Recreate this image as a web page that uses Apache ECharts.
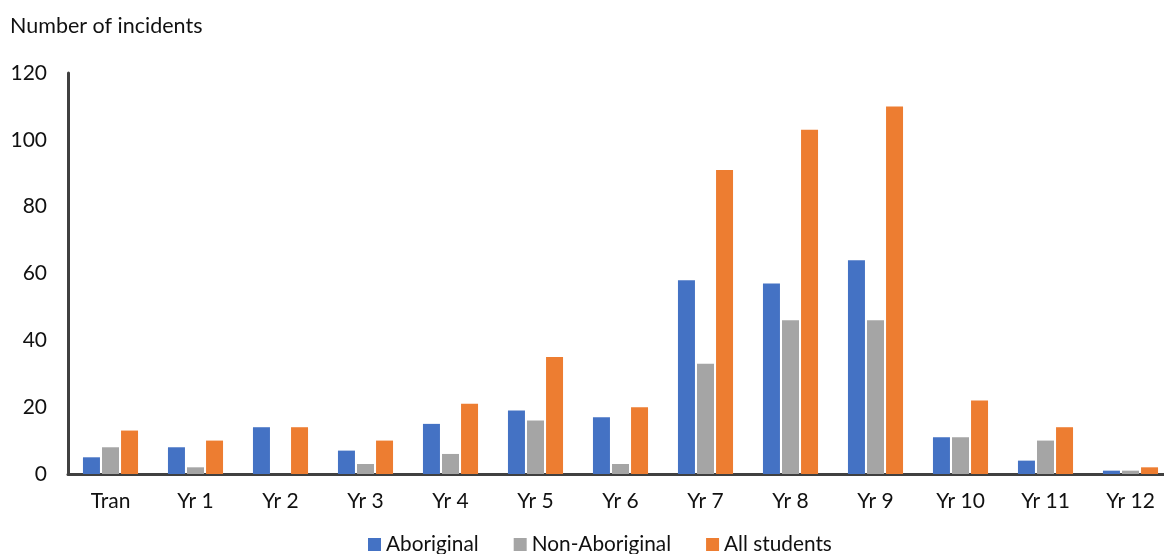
<!DOCTYPE html>
<html>
<head>
<meta charset="utf-8">
<script src="https://cdn.jsdelivr.net/npm/echarts@6/dist/echarts.min.js"></script>
<style>
  html, body { margin: 0; padding: 0; background: #ffffff; }
  #chart { width: 1164px; height: 554px; }
</style>
</head>
<body>
<div id="chart"></div>
<script>
// Incidents by school year level
const categories = ['Tran', 'Yr 1', 'Yr 2', 'Yr 3', 'Yr 4', 'Yr 5', 'Yr 6', 'Yr 7', 'Yr 8', 'Yr 9', 'Yr 10', 'Yr 11', 'Yr 12'];
const aboriginal = [5, 8, 14, 7, 15, 19, 17, 58, 57, 64, 11, 4, 1];
const nonAboriginal = [8, 2, 0, 3, 6, 16, 3, 33, 46, 46, 11, 10, 1];
const allStudents = [13, 10, 14, 10, 21, 35, 20, 91, 103, 110, 22, 14, 2];
const yTicks = [0, 20, 40, 60, 80, 100, 120];

const FONT = 'Lato, "Liberation Sans", sans-serif';
const AXIS_COLOR = '#404040';
const TEXT_COLOR = '#111111';

const chart = echarts.init(document.getElementById('chart'), null, { renderer: 'canvas' });

function barSeries(name, data, color) {
  return {
    name: name,
    type: 'bar',
    data: data,
    barWidth: 17,
    barGap: '12%',
    itemStyle: { color: color },
    emphasis: { disabled: true }
  };
}

chart.setOption({
  animation: false,
  textStyle: { fontFamily: FONT },
  title: {
    text: 'Number of incidents',
    left: 10,
    top: 15,
    padding: 0,
    textStyle: { fontFamily: FONT, fontSize: 21.5, fontWeight: 'normal', color: TEXT_COLOR }
  },
  legend: {
    data: ['Aboriginal', 'Non-Aboriginal', 'All students'],
    top: 529,
    left: 363,
    itemWidth: 13,
    itemHeight: 13,
    itemGap: 35,
    icon: 'rect',
    textStyle: { fontFamily: FONT, fontSize: 20.8, color: TEXT_COLOR }
  },
  // the plot runs slightly past the right edge, so the last bars sit near the border
  grid: { left: 68, right: -9, top: 73, bottom: 80, outerBoundsMode: 'none', containLabel: false },
  xAxis: {
    type: 'category',
    data: categories,
    axisLine: { show: true, lineStyle: { color: AXIS_COLOR, width: 3 } },
    axisTick: { show: false },
    axisLabel: { fontFamily: FONT, fontSize: 21, color: TEXT_COLOR, margin: 17 }
  },
  yAxis: {
    type: 'value',
    min: yTicks[0],
    max: yTicks[yTicks.length - 1],
    interval: yTicks[1] - yTicks[0],
    axisLine: { show: true, lineStyle: { color: AXIS_COLOR, width: 3 } },
    axisTick: { show: false },
    splitLine: { show: false },
    axisLabel: { fontFamily: FONT, fontSize: 21, color: TEXT_COLOR, margin: 21 }
  },
  series: [
    barSeries('Aboriginal', aboriginal, '#4472C4'),
    barSeries('Non-Aboriginal', nonAboriginal, '#A5A5A5'),
    barSeries('All students', allStudents, '#ED7D31')
  ]
});
</script>
</body>
</html>
